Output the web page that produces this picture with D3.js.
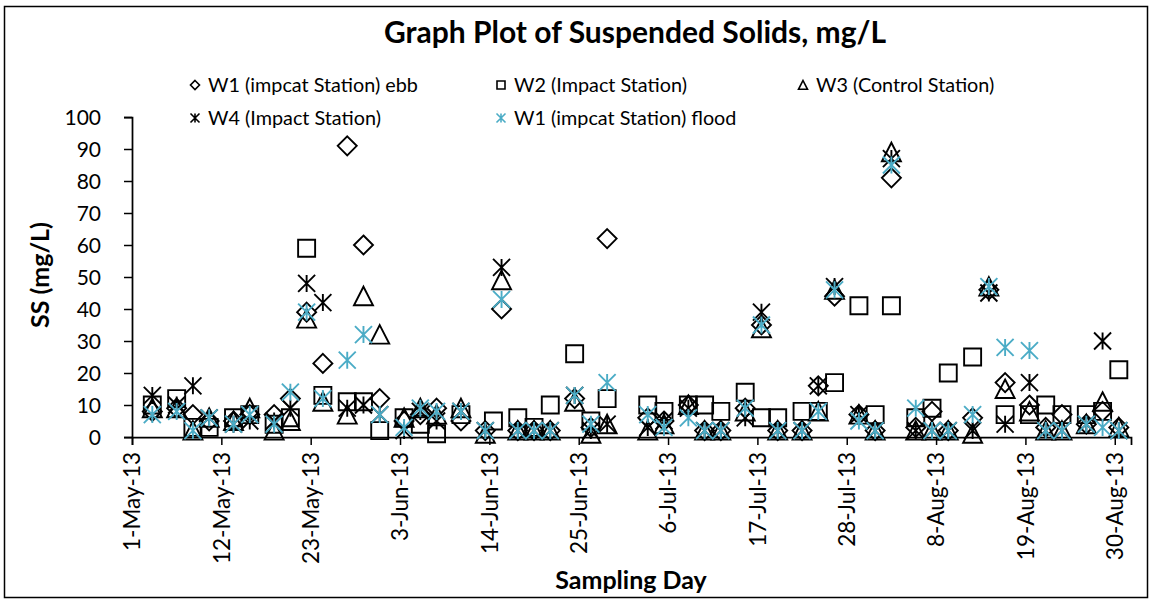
<!DOCTYPE html>
<html>
<head>
<meta charset="utf-8">
<script src="https://cdn.jsdelivr.net/npm/d3@7"></script>
<style>
  html, body { margin: 0; padding: 0; background: #fff; }
  svg { display: block; font-family: Lato, "Open Sans", sans-serif; }
</style>
</head>
<body>
<svg id="chart" width="1153" height="602"></svg>
<script>
// ---------------- DATA ----------------
const sampleDates = [
  "2013-05-03","2013-05-06","2013-05-08","2013-05-10","2013-05-13","2013-05-15","2013-05-18","2013-05-20",
  "2013-05-22","2013-05-24","2013-05-27","2013-05-29","2013-05-31","2013-06-03","2013-06-05","2013-06-07",
  "2013-06-10","2013-06-13","2013-06-14","2013-06-15","2013-06-17","2013-06-19","2013-06-21","2013-06-24",
  "2013-06-26","2013-06-28","2013-07-03","2013-07-05","2013-07-08","2013-07-10","2013-07-12","2013-07-15",
  "2013-07-17","2013-07-19","2013-07-22","2013-07-24","2013-07-26","2013-07-29","2013-07-31","2013-08-02",
  "2013-08-05","2013-08-07","2013-08-09","2013-08-12","2013-08-14","2013-08-16","2013-08-19","2013-08-21",
  "2013-08-23","2013-08-26","2013-08-28","2013-08-30"
];
const w1Ebb = [8,9,7,5,5,7,7,12, 39,23,91,60,12,5,7,9, 5,2,null,40,2,2,2,12, 3,62,6,5,10,2,2,9,
  35,2,2,16,44,7,2,81, 3,8,2,6,46,17,10,3, 7,4,8,3];
const w2 = [10,12,3,3,6,7,4,6, 59,13,11,11,2,6,4,1, 7,null,5,null,6,3,10,26, 5,12,10,8,10,10,8,14,
  6,6,8,8,17,41,7,41, 6,9,20,25,null,7,7,10, 7,7,8,21];
const w3 = [9,9,2,6,5,9,2,5, 37,11,7,44,32,6,9,7, 9,1,null,49,2,2,2,11, 1,4,2,4,10,2,2,8,
  34,2,2,8,46,7,2,89, 2,2,2,1,47,15,8,2, 2,4,11,3];
const w4 = [13,10,16,6,4,5,5,9, 48,42,9,10,7,2,8,5, 8,2,null,53,2,2,2,13, 2,4,3,5,9,2,2,6,
  39,2,2,16,47,7,2,87, 2,2,2,2,45,4,17,2, 2,4,30,2];
const w1Flood = [7,8,2,6,4,7,4,14, 39,12,24,32,7,3,9,8, 8,2,null,43,2,2,2,13, 4,17,7,3,6,2,2,9,
  35,2,2,8,46,5,2,85, 9,2,2,7,47,28,27,2, 2,4,3,2];

const seriesNames = ["W1 (impcat Station) ebb","W2 (Impact Station)","W3 (Control Station)",
                     "W4 (Impact Station)","W1 (impcat Station) flood"];
const yTicks = [0,10,20,30,40,50,60,70,80,90,100];
const xTickDates = ["2013-05-01","2013-05-12","2013-05-23","2013-06-03","2013-06-14","2013-06-25",
  "2013-07-06","2013-07-17","2013-07-28","2013-08-08","2013-08-19","2013-08-30"];
const titleText = "Graph Plot of Suspended Solids, mg/L";
const yTitle = "SS (mg/L)";
const xTitle = "Sampling Day";

// ---------------- SETUP ----------------
const parse = d3.utcParse("%Y-%m-%d");
const fmt = d3.utcFormat("%-d-%b-%y");
const svg = d3.select("#chart");
const CYAN = "#4BACC6";

svg.append("rect").attr("x",0).attr("y",0).attr("width",1153).attr("height",602).attr("fill","#fff");
svg.append("rect").attr("x",4.5).attr("y",6.5).attr("width",1143).attr("height",591)
  .attr("fill","none").attr("stroke","#000").attr("stroke-width",1.5);

const x = d3.scaleUtc()
  .domain([parse("2013-05-01"), parse("2013-09-01")])
  .range([132, 1131]);
const y = d3.scaleLinear().domain([0, 100]).range([437, 117]);

// markers
const sym = {
  diamond: r => `M0,${-r}L${r},0L0,${r}L${-r},0Z`,
  square: r => `M${-r},${-r}H${r}V${r}H${-r}Z`,
  triangle: r => `M0,${-r}L${r},${r*0.95}L${-r},${r*0.95}Z`,
  star: r => `M${-r},${-r}L${r},${r}M${r},${-r}L${-r},${r}M0,${-r}V${r}`
};
const series = [
  {name: seriesNames[0], values: w1Ebb,   shape: "diamond",  r: 9.5, color: "#000"},
  {name: seriesNames[1], values: w2,      shape: "square",   r: 8.5, color: "#000"},
  {name: seriesNames[2], values: w3,      shape: "triangle", r: 9.5, color: "#000"},
  {name: seriesNames[3], values: w4,      shape: "star",     r: 8.5, color: "#000"},
  {name: seriesNames[4], values: w1Flood, shape: "star",     r: 8.5, color: CYAN}
];

// ---------------- AXES ----------------
const yAxis = d3.axisLeft(y).tickValues(yTicks).tickSize(8).tickPadding(23).tickFormat(d3.format("d"));
const gy = svg.append("g").attr("transform","translate(132,0)").call(yAxis);
gy.select(".domain").attr("stroke","#000").attr("stroke-width",1.75);
gy.selectAll(".tick line").attr("stroke","#000").attr("stroke-width",1.5);
gy.selectAll(".tick text").attr("fill","#000").style("font-size","21px").style("font-family","Lato")
  .attr("dy","0.35em");

const xAxis = d3.axisBottom(x).tickValues(xTickDates.map(parse)).tickSize(8).tickFormat(fmt);
const gx = svg.append("g").attr("transform","translate(0,437)").call(xAxis);
gx.select(".domain").attr("stroke","#000").attr("stroke-width",1.75);
gx.selectAll(".tick line").attr("stroke","#000").attr("stroke-width",1.5);
gx.selectAll(".tick text").attr("fill","#000").style("font-size","22.5px").style("font-family","Lato")
  .attr("transform","rotate(-90)").attr("x",-15).attr("y",0).attr("dy","0.35em")
  .style("text-anchor","end");

// ---------------- POINTS ----------------
series.forEach(s => {
  const pts = sampleDates.map((d,i) => ({date: d3.utcHour.offset(parse(d),12), v: s.values[i]}))
    .filter(p => p.v !== null);
  svg.append("g").selectAll("path").data(pts).join("path")
    .attr("d", sym[s.shape](s.r))
    .attr("transform", p => `translate(${x(p.date)},${y(p.v)})`)
    .attr("fill","none").attr("stroke", s.color).attr("stroke-width", 1.9);
});

// ---------------- TITLES ----------------
svg.append("text").attr("x",635).attr("y",43).attr("text-anchor","middle")
  .style("font-size","30px").style("font-weight","bold").text(titleText);
svg.append("text").attr("transform","translate(40,275) rotate(-90)").attr("text-anchor","middle")
  .attr("dy","0.35em").style("font-size","25px").style("font-weight","bold").text(yTitle);
svg.append("text").attr("x",631).attr("y",589).attr("text-anchor","middle")
  .style("font-size","25px").style("font-weight","bold").text(xTitle);

// ---------------- LEGEND ----------------
const legendPos = [[195,85],[501,85],[803,85],[195,118],[501,118]];
series.forEach((s,i) => {
  const [lx,ly] = legendPos[i];
  svg.append("path").attr("d", sym[s.shape](s.shape==="square"?4:4.5))
    .attr("transform",`translate(${lx},${ly})`).attr("fill","none")
    .attr("stroke", s.color).attr("stroke-width",1.6);
  svg.append("text").attr("x",lx+13).attr("y",ly).attr("dy","0.35em")
    .style("font-size","19.8px").text(s.name);
});
</script>
</body>
</html>
